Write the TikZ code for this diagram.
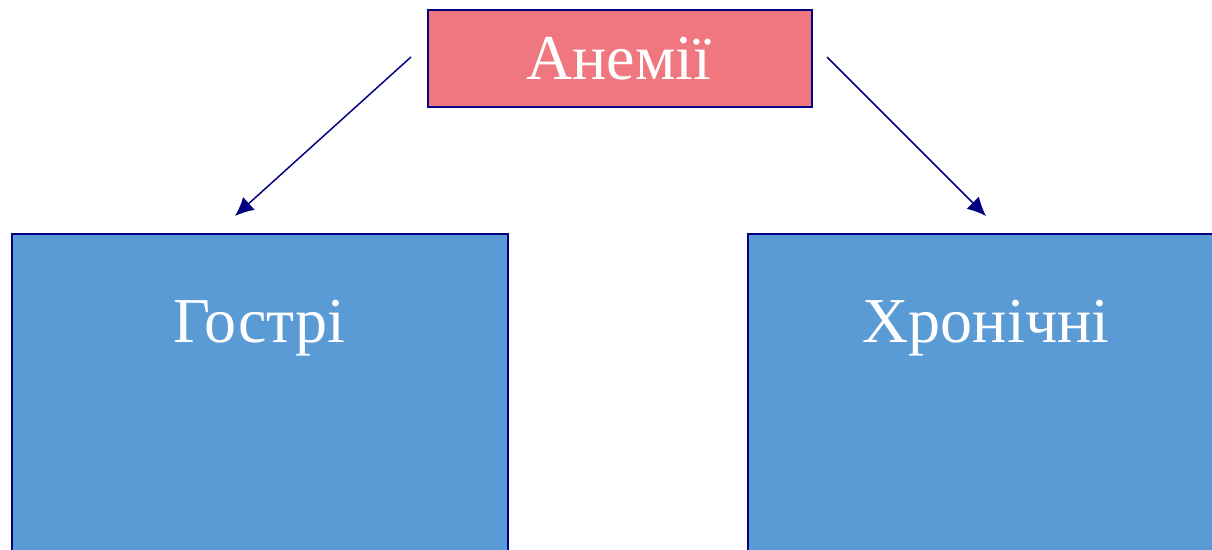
\documentclass[tikz,border=0pt]{standalone}
\usepackage{fontspec}
\setmainfont{Liberation Serif}
\usetikzlibrary{arrows.meta}
\definecolor{boxpink}{HTML}{F0767F}
\definecolor{boxblue}{HTML}{5B9BD5}
\definecolor{edge}{HTML}{000080}
\begin{document}
\begin{tikzpicture}[x=0.75pt,y=-0.75pt,
  boxstyle/.style={draw=edge,line width=1.8pt,inner sep=0pt,anchor=north west},
  txt/.style={text=white,font=\fontsize{48}{52}\selectfont,anchor=base,inner sep=0pt},
  conn/.style={draw=edge,line width=1.1pt,-{Latex[length=14pt,width=13pt]}}]
\clip (0,0) rectangle (1212,549);
\fill[white] (0,0) rectangle (1212,549);
\node[boxstyle,fill=boxpink,minimum width=384*0.75pt,minimum height=97*0.75pt] (top) at (427,9) {};
\node[boxstyle,fill=boxblue,minimum width=496*0.75pt,minimum height=340*0.75pt] (left) at (11,233) {};
\node[boxstyle,fill=boxblue,minimum width=496*0.75pt,minimum height=340*0.75pt] (right) at (747,233) {};
\node[txt] (ttop) at (619,80) {Анемії};
\node[txt] (tleft) at (259,342) {Гострі};
\node[txt] (tright) at (986,342) {Хронічні};
\coordinate (ls) at (411,57);
\coordinate (le) at (235,216);
\coordinate (rs) at (827,57);
\coordinate (re) at (986,216);
\draw[conn] (ls) -- (le);
\draw[conn] (rs) -- (re);
\end{tikzpicture}
\end{document}
